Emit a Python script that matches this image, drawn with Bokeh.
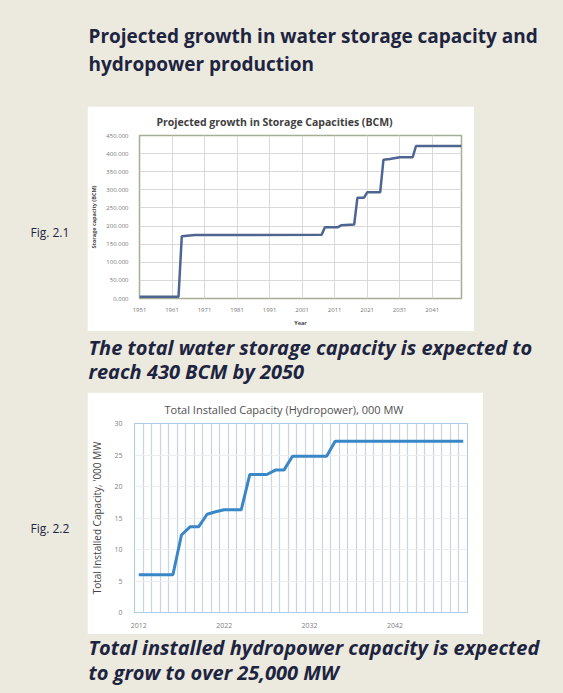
from bokeh.plotting import figure
from bokeh.layouts import column, row
from bokeh.models import Range1d, FixedTicker, NumeralTickFormatter, SingleIntervalTicker, Spacer
from bokeh.core.properties import value
from bokeh.embed import file_html
from bokeh.resources import INLINE

# ---------------- data ----------------
# Fig 2.1: storage capacity (BCM), line vertices
storage_years = [1951, 1963, 1964, 1968, 2007, 2008, 2012, 2013, 2017, 2018, 2020, 2021, 2025, 2026, 2028, 2031, 2035, 2036, 2050]
storage_values = [5, 5, 172, 175, 176, 197, 197, 202, 204, 278, 278, 293, 293, 383, 385, 390, 390, 421, 421]
storage_xticks = [1951, 1961, 1971, 1981, 1991, 2001, 2011, 2021, 2031, 2041]

# Fig 2.2: installed hydropower capacity ('000 MW), yearly
hydro_years = list(range(2012, 2051))
hydro_values = [6, 6, 6, 6, 6, 12.3, 13.6, 13.6, 15.6, 16.0, 16.3, 16.3, 16.3,
                21.9, 21.9, 21.9, 22.6, 22.6, 24.8, 24.8, 24.8, 24.8, 24.8,
                27.2, 27.2, 27.2, 27.2, 27.2, 27.2, 27.2, 27.2,
                27.2, 27.2, 27.2, 27.2, 27.2, 27.2, 27.2, 27.2]
hydro_xticks = [2012, 2022, 2032, 2042]

heading = ["Projected growth in water storage capacity and", "hydropower production"]
caption1 = ["The total water storage capacity is expected to", "reach 430 BCM by 2050"]
caption2 = ["Total installed hydropower capacity is expected", "to grow to over 25,000 MW"]

BG = "#ECE9DF"
INK = "#1d2440"
W = 563


def text_fig(w, h, xs, ys, texts, size, style, font="Open Sans"):
    f = figure(width=w, height=h, x_range=Range1d(0, w), y_range=Range1d(h, 0),
               output_backend="svg", toolbar_location=None,
               min_border=0, min_border_left=0, min_border_right=0,
               min_border_top=0, min_border_bottom=0)
    f.axis.visible = False
    f.grid.visible = False
    f.outline_line_color = None
    f.background_fill_color = BG
    f.border_fill_color = BG
    f.text(x=xs, y=ys, text=texts, text_font=value(font), text_font_size=value(size),
           text_font_style=style, text_color=INK, text_baseline="middle", text_align="left")
    return f


header = text_fig(W, 106, [88, 88], [35, 63], heading, "19px", "bold")
lab1 = text_fig(87, 225, [30], [134], ["Fig. 2.1"], "12px", "normal")
cap1 = text_fig(W, 61, [88, 88], [16, 40], caption1, "20px", "bold italic")
lab2 = text_fig(87, 242, [30], [135], ["Fig. 2.2"], "12px", "normal")
cap2 = text_fig(W, 58, [88, 88], [13, 38], caption2, "20px", "bold italic")

# ---------------- chart 1 ----------------
p1 = figure(width=387, height=225, x_range=Range1d(1951, 2050), y_range=Range1d(0, 450),
            output_backend="svg", toolbar_location=None,
            min_border_left=51, min_border_right=13, min_border_top=29, min_border_bottom=33)
p1.background_fill_color = "white"
p1.border_fill_color = "white"
p1.outline_line_color = "#A3AE95"
p1.outline_line_width = 1.5
p1.title.text = "Projected growth in Storage Capacities (BCM)"
p1.title.text_font = "Open Sans"
p1.title.text_font_size = "10.5px"
p1.title.text_font_style = "bold"
p1.title.text_color = "#404040"
p1.title.align = "left"
p1.title.offset = 17
p1.title.standoff = 13

p1.line(storage_years, storage_values, line_color="#4F6591", line_width=2.5)

p1.yaxis.ticker = SingleIntervalTicker(interval=50)
p1.yaxis.formatter = NumeralTickFormatter(format="0.000")
p1.xaxis.ticker = FixedTicker(ticks=storage_xticks)
p1.xgrid.ticker = FixedTicker(ticks=storage_xticks)
p1.ygrid.ticker = SingleIntervalTicker(interval=50)
for ax in (p1.xaxis, p1.yaxis):
    ax.axis_line_color = None
    ax.major_tick_line_color = None
    ax.minor_tick_line_color = None
    ax.major_label_text_font = "Open Sans"
    ax.major_label_text_font_size = "6px"
    ax.major_label_text_color = "#777777"
    ax.axis_label_text_font = "Open Sans"
    ax.axis_label_text_font_style = "bold"
    ax.axis_label_text_color = "#444444"
    ax.axis_label_text_font_size = "5.5px"
p1.xaxis.axis_label = "Year"
p1.xaxis.major_label_standoff = 3
p1.xaxis.axis_label_standoff = 4
p1.yaxis.axis_label = "Storage capacity (BCM)"
p1.yaxis.major_label_standoff = 5
p1.yaxis.axis_label_standoff = 5
p1.grid.grid_line_color = "#D9D9D9"
p1.grid.grid_line_width = 1

# ---------------- chart 2 ----------------
p2 = figure(width=396, height=242, x_range=Range1d(2011.5, 2050.5), y_range=Range1d(0, 30),
            output_backend="svg", toolbar_location=None,
            min_border_left=45, min_border_right=16, min_border_top=30, min_border_bottom=22)
p2.background_fill_color = "white"
p2.border_fill_color = "white"
p2.outline_line_color = "#A9CBEA"
p2.outline_line_width = 1
p2.title.text = "Total Installed Capacity (Hydropower), 000 MW"
p2.title.text_font = "Open Sans"
p2.title.text_font_size = "11px"
p2.title.text_font_style = "normal"
p2.title.text_color = "#505050"
p2.title.align = "left"
p2.title.offset = 30
p2.title.standoff = 14

p2.line(hydro_years, hydro_values, line_color="#3A87C8", line_width=3)

p2.yaxis.ticker = SingleIntervalTicker(interval=5)
p2.xaxis.ticker = FixedTicker(ticks=hydro_xticks)
p2.xgrid.ticker = FixedTicker(ticks=[y + 0.5 for y in range(2011, 2051)])
p2.ygrid.ticker = SingleIntervalTicker(interval=5)
for ax in (p2.xaxis, p2.yaxis):
    ax.axis_line_color = None
    ax.major_tick_line_color = None
    ax.minor_tick_line_color = None
    ax.major_label_text_font = "Open Sans"
    ax.major_label_text_font_size = "7px"
    ax.major_label_text_color = "#7F7F7F"
    ax.axis_label_text_font = "Open Sans"
    ax.axis_label_text_font_style = "normal"
    ax.axis_label_text_color = "#454545"
p2.yaxis.axis_label = "Total Installed Capacity, '000 MW"
p2.yaxis.axis_label_text_font_size = "10px"
p2.yaxis.major_label_standoff = 6
p2.yaxis.axis_label_standoff = 7
p2.xaxis.major_label_standoff = 4
p2.xgrid.grid_line_color = "#C8D6E3"
p2.xgrid.grid_line_width = 1.2
p2.ygrid.grid_line_color = "#EDEDED"

row1 = row(lab1, p1, Spacer(width=W - 87 - 387, height=225, styles={"background-color": BG}))
row2 = row(lab2, p2, Spacer(width=W - 87 - 396, height=242, styles={"background-color": BG}))
layout = column(header, row1, cap1, row2, cap2, spacing=0, styles={"background-color": BG})

html = file_html(layout, INLINE, title="Projected growth")
html = html.replace("</head>", "<style>html, body { background-color: %s; }</style></head>" % BG, 1)
open("out.html", "w").write(html)
